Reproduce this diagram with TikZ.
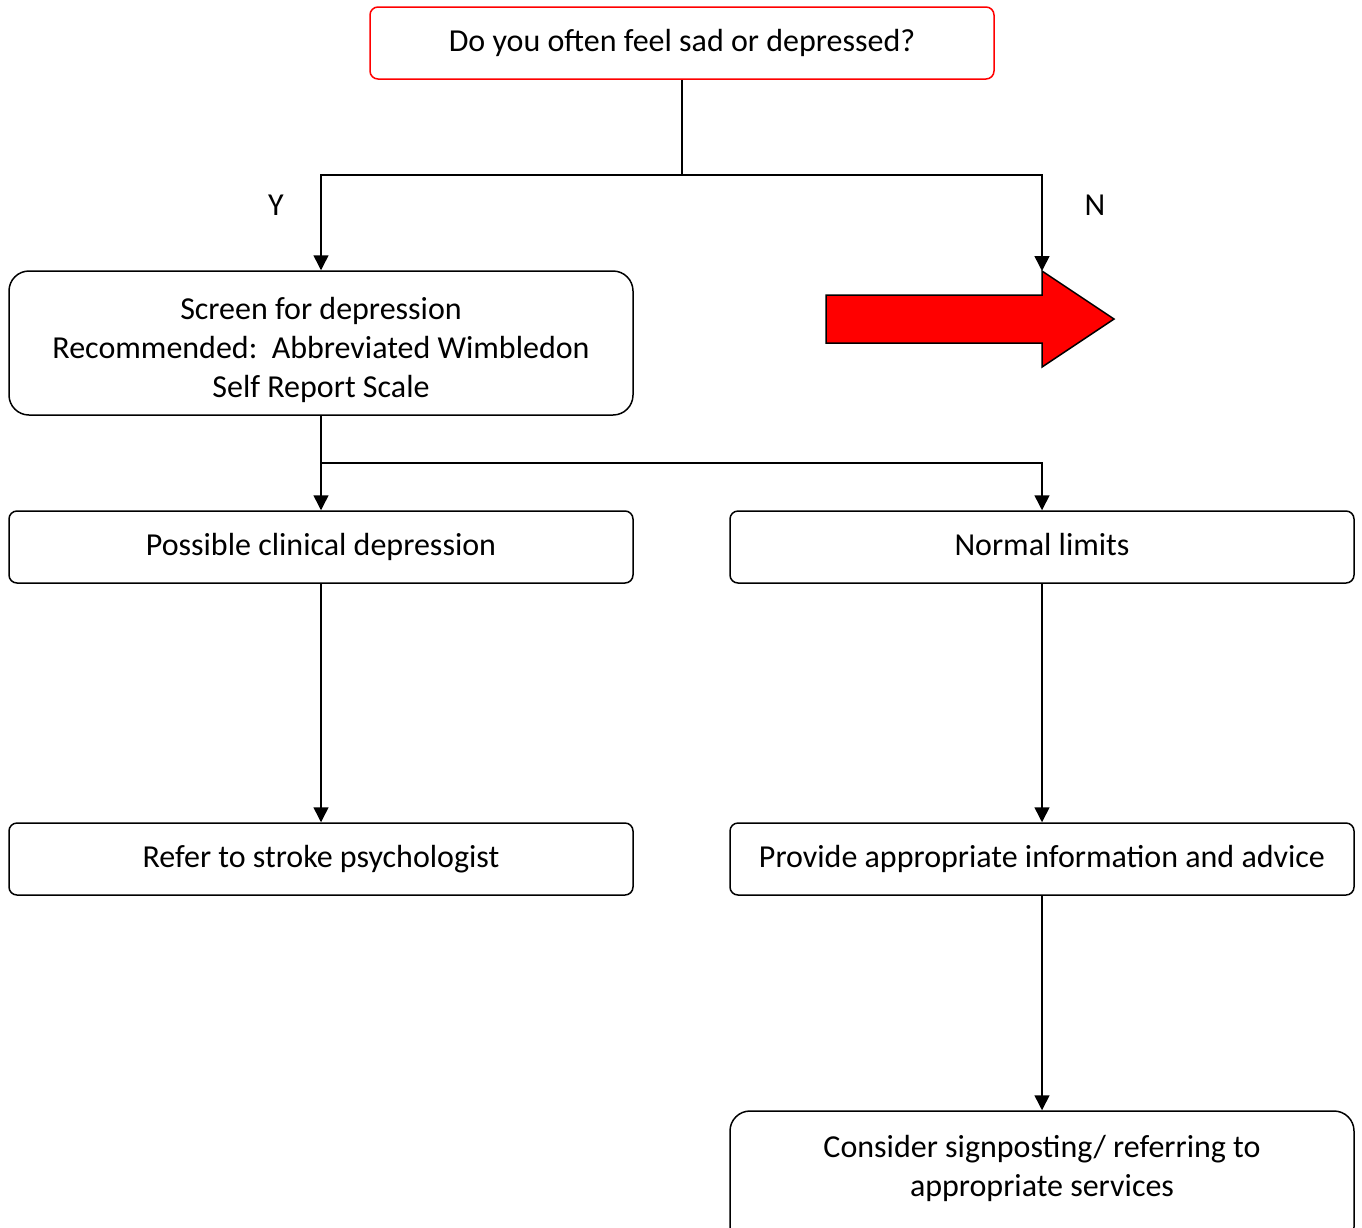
\documentclass[tikz,border=0pt]{standalone}
\usepackage{fontspec}
\setmainfont{Carlito}
\usetikzlibrary{arrows.meta}
\tikzset{
  box/.style={draw, line width=1.5pt, rounded corners=8pt, minimum width=624pt, minimum height=72pt, inner sep=0pt, align=center, text height=22pt, text depth=6pt, font=\fontsize{32}{39}\selectfont},
  tallbox/.style={box, rounded corners=20pt, minimum height=144pt, text height=, text depth=},
  link/.style={line width=1.5pt, -{Triangle[width=15pt,length=15pt]}}
}
\begin{document}
\begin{tikzpicture}[x=1pt, y=-1pt]
  \useasboundingbox (0,0) rectangle (1362,1227);
  \begin{scope}
  \clip (0,0) rectangle (1362,1227);
  \node[box, draw=red] at (682,43) (ask) {Do you often feel sad or depressed?};
  \node[tallbox] at (321,343) (screen) {\rule{0pt}{36pt}Screen for depression\\Recommended:\ \ Abbreviated Wimbledon\\Self Report Scale};
  \node[box] at (321,547) (clinical) {Possible clinical depression};
  \node[box] at (1042,547) (normal) {Normal limits};
  \node[box] at (321,859) (refer) {Refer to stroke psychologist};
  \node[box] at (1042,859) (advice) {Provide appropriate information and advice};
  \node[tallbox, minimum height=136pt, text depth=26pt] at (1042,1179) (signpost) {Consider signposting/ referring to\\appropriate services};
  \end{scope}
  % big red arrow for the N branch
  \draw[line width=1.5pt, fill=red, line join=miter] (826,295) -- (1042,295) -- (1042,271) -- (1114,319) -- (1042,367) -- (1042,343) -- (826,343) -- cycle;
  \coordinate (nhead) at (1042,271);
  \coordinate (split) at (682,175);
  \coordinate (fork) at (321,463);
  \draw[line width=1.5pt] (ask.south) -- (split);
  \draw[link] (split) -| (screen.north);
  \draw[link] (split) -| (nhead);
  \node[font=\fontsize{32}{39}\selectfont] at (276,205) (yes) {Y};
  \node[font=\fontsize{32}{39}\selectfont] at (1095,205) (no) {N};
  \draw[line width=1.5pt] (screen.south) -- (fork);
  \draw[link] (fork) -- (clinical.north);
  \draw[link] (fork) -| (normal.north);
  \draw[link] (clinical) -- (refer);
  \draw[link] (normal) -- (advice);
  \draw[link] (advice) -- (signpost);
\end{tikzpicture}
\end{document}
